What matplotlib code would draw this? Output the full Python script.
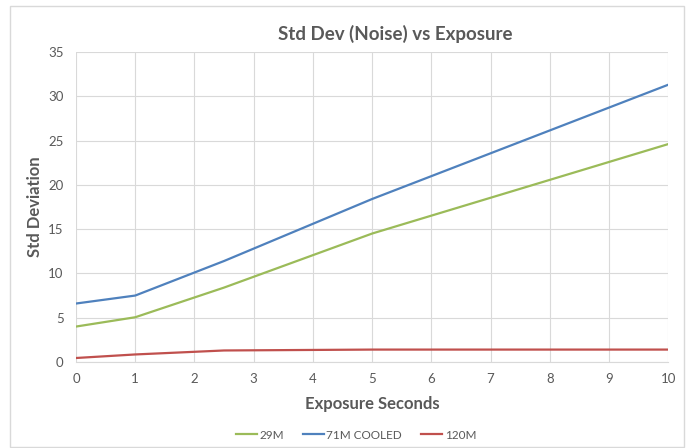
import matplotlib.pyplot as plt
from matplotlib.patches import Rectangle

exposure = [0, 1, 2.5, 5, 10]
std_29m = [4.0, 5.05, 8.4, 14.5, 24.6]
std_71m = [6.6, 7.5, 11.4, 18.4, 31.3]
std_120m = [0.45, 0.85, 1.3, 1.4, 1.4]

plt.rcParams['font.family'] = ['Lato', 'DejaVu Sans']
txt = "#595959"

fig = plt.figure(figsize=(6.91, 4.48), dpi=100)
fig.patches.append(Rectangle((10 / 691, 0.002), 674 / 691, 0.985,
                             transform=fig.transFigure, fill=False,
                             edgecolor="#D9D9D9", linewidth=1))
ax = fig.add_axes([0.110, 0.192, 0.857, 0.692])

ax.plot(exposure, std_29m, color="#9BBB59", lw=1.6, label="29M")
ax.plot(exposure, std_71m, color="#4F81BD", lw=1.6, label="71M COOLED")
ax.plot(exposure, std_120m, color="#C0504D", lw=1.6, label="120M")

ax.set_xlim(0, 10)
ax.set_ylim(0, 35)
ax.set_xticks(range(0, 11))
ax.set_yticks(range(0, 36, 5))
ax.grid(True, color="#D9D9D9", lw=0.8)
ax.set_axisbelow(True)
for s in ["top", "right", "left"]:
    ax.spines[s].set_visible(False)
ax.spines["bottom"].set_color("#D9D9D9")
ax.tick_params(length=0, labelsize=9.5, colors=txt, pad=8)
ax.tick_params(axis="y", pad=9)

fig.text(0.572, 0.924, "Std Dev (Noise) vs Exposure", ha="center", va="center",
         fontsize=13.5, fontweight="bold", color=txt)
ax.set_xlabel("Exposure Seconds", fontsize=12, fontweight="bold", color=txt)
ax.set_ylabel("Std Deviation", fontsize=12, fontweight="bold", color=txt)
ax.xaxis.set_label_coords(0.5, -0.11)
ax.yaxis.set_label_coords(-0.055, 0.5)

fig.legend(loc="center", bbox_to_anchor=(0.515, 0.029), ncol=3, frameon=False,
           fontsize=8.5, labelcolor=txt, handlelength=1.8, handletextpad=0.2,
           columnspacing=1.6)

plt.savefig("out.png", dpi=100)
